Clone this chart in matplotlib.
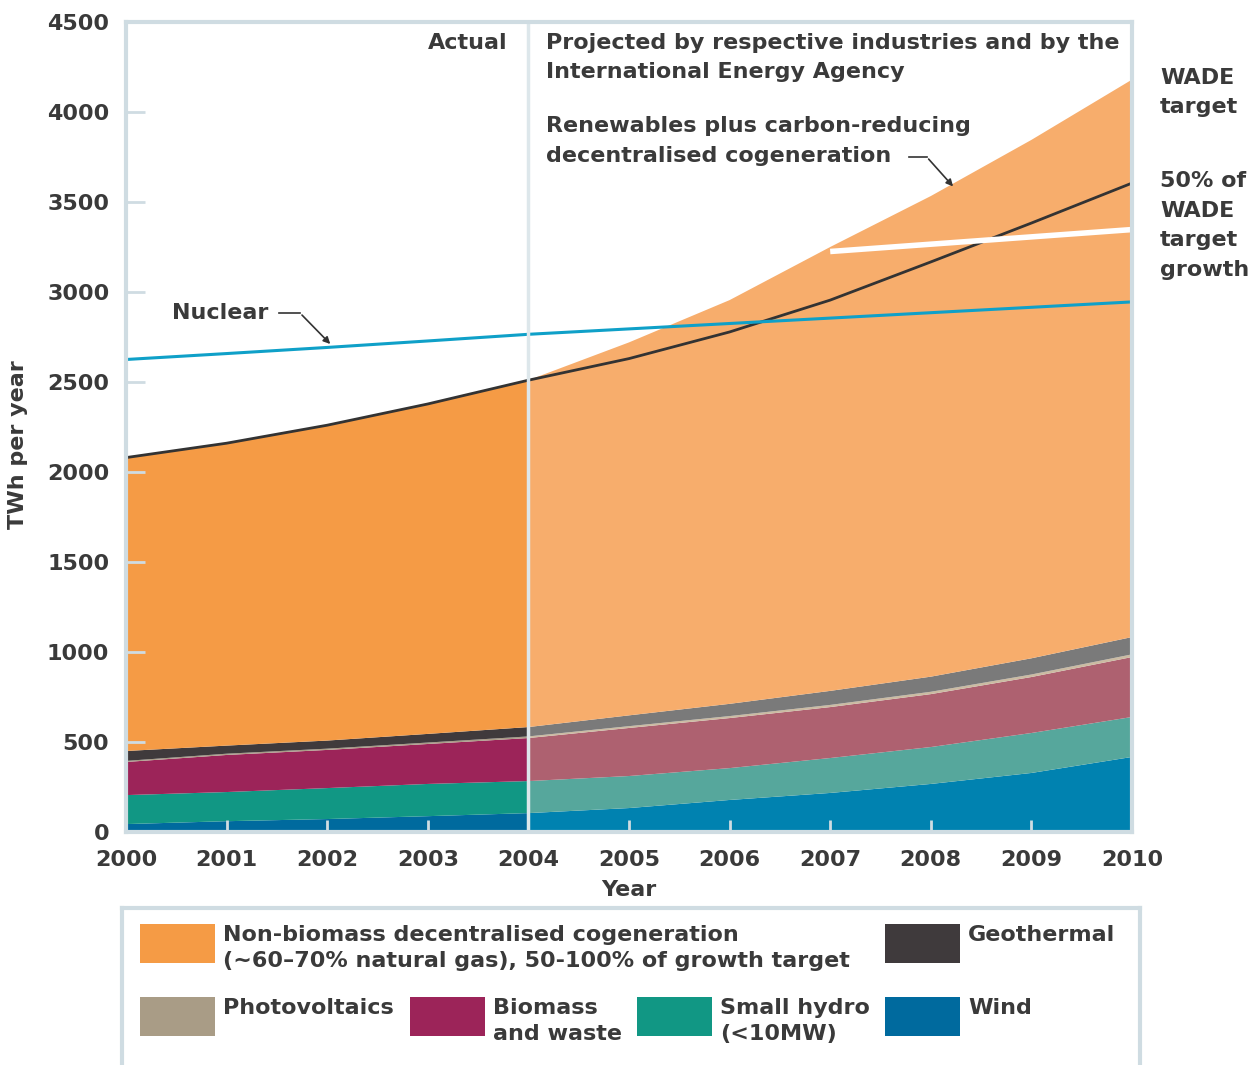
import numpy as np
import matplotlib
matplotlib.use("Agg")
import matplotlib.pyplot as plt
from matplotlib.patches import Rectangle

plt.rcParams["font.family"] = ["DejaVu Sans"]

# data (TWh per year)
years = np.arange(2000, 2011)
wind = [44, 60, 72, 88, 105, 133, 178, 217, 267, 328, 417]
small_hydro = [161, 162, 172, 179, 178, 178, 177, 194, 205, 222, 222]
biomass = [184, 206, 212, 222, 239, 267, 278, 283, 294, 311, 333]
photovoltaics = [6, 7, 7, 8, 9, 10, 11, 12, 13, 14, 15]
geothermal = [55, 45, 45, 48, 52, 60, 68, 78, 84, 90, 96]
cogeneration = [1630, 1680, 1752, 1833, 1927, 2072, 2243, 2466, 2670, 2880, 3097]
renewables_total = [2080, 2160, 2260, 2378, 2510, 2630, 2778, 2955, 3167, 3383, 3605]
nuclear = [2625, 2658, 2692, 2728, 2765, 2795, 2825, 2855, 2885, 2915, 2945]
wade_half_years = [2007, 2010.2]
wade_half = [3225, 3355]
last_actual = 2004

actual_colors = ["#006a9e", "#119784", "#9c2459", "#a99c86", "#3f3a3c", "#f59b45"]
projected_colors = ["#0082b0", "#56a79c", "#ae6170", "#cbbba2", "#7a7a7a", "#f7ad6c"]
text_color = "#3a3a3a"
frame_color = "#cfdce2"
fs = 16

layers = np.array([wind, small_hydro, biomass, photovoltaics, geothermal, cogeneration])
split = list(years).index(last_actual)

fig = plt.figure(figsize=(12.58, 10.65), dpi=100)
ax = fig.add_axes([126 / 1258, 1 - 832 / 1065, 1006 / 1258, 810 / 1065])

ax.stackplot(years[:split + 1], layers[:, :split + 1], colors=actual_colors, lw=0)
ax.stackplot(years[split:], layers[:, split:], colors=projected_colors, lw=0)

ax.plot(years, renewables_total, color="#333333", lw=2)
ax.plot(years, nuclear, color="#0fa0c8", lw=2.2)
ax.axvline(last_actual, color="#dde7eb", lw=2.5)
ax.plot(wade_half_years, wade_half, color="white", lw=4, clip_on=False, solid_capstyle="butt")

ax.set_xlim(2000, 2010)
ax.set_ylim(0, 4500)
ax.set_xticks(years)
ax.set_yticks(np.arange(0, 4501, 500))
ax.tick_params(axis="both", direction="in", colors=frame_color, width=2,
               labelcolor=text_color, labelsize=fs)
ax.tick_params(axis="y", length=14, pad=12)
ax.tick_params(axis="x", length=9, pad=13)
for lab in ax.get_xticklabels() + ax.get_yticklabels():
    lab.set_fontweight("bold")
for sp in ax.spines.values():
    sp.set_color(frame_color)
    sp.set_linewidth(3)

ax.set_xlabel("Year", fontsize=fs, fontweight="bold", color=text_color, labelpad=7)
ax.set_ylabel("TWh per year", fontsize=fs, fontweight="bold", color=text_color)
ax.yaxis.set_label_coords(-0.097, 0.478)

note = dict(fontsize=fs, fontweight="bold", color=text_color, linespacing=1.6)
ax.text(2003.79, 4440, "Actual", ha="right", va="top", **note)
ax.text(2004.17, 4440, "Projected by respective industries and by the\nInternational Energy Agency",
        ha="left", va="top", **note)
ax.text(2004.17, 3975, "Renewables plus carbon-reducing\ndecentralised cogeneration",
        ha="left", va="top", **note)
ax.plot([2007.78, 2007.96], [3750, 3750], color="#333333", lw=1.2)
ax.annotate("", xy=(2008.24, 3575), xytext=(2007.96, 3750),
            arrowprops=dict(arrowstyle="-|>", color="#333333", lw=1.2, mutation_scale=10))
ax.text(2000.46, 2883, "Nuclear", ha="left", va="center", **note)
ax.plot([2001.52, 2001.73], [2883, 2883], color="#333333", lw=1.2)
ax.annotate("", xy=(2002.05, 2700), xytext=(2001.73, 2883),
            arrowprops=dict(arrowstyle="-|>", color="#333333", lw=1.2, mutation_scale=10))
ax.text(2010.28, 4245, "WADE\ntarget", ha="left", va="top", clip_on=False, **note)
ax.text(2010.28, 3672, "50% of\nWADE\ntarget\ngrowth", ha="left", va="top", clip_on=False, **note)

# legend panel
lg = fig.add_axes([122 / 1258, 0, 1018 / 1258, 157 / 1065])
lg.set_xlim(122, 1140)
lg.set_ylim(1065, 908)
lg.set_xticks([])
lg.set_yticks([])
for sp in lg.spines.values():
    sp.set_color(frame_color)
    sp.set_linewidth(3)
lg.spines["bottom"].set_visible(False)

legend_items = [
    ("Non-biomass decentralised cogeneration\n(~60\u201370% natural gas), 50-100% of growth target", 140, 924, actual_colors[5]),
    ("Geothermal", 885, 924, actual_colors[4]),
    ("Photovoltaics", 140, 997, actual_colors[3]),
    ("Biomass\nand waste", 410, 997, actual_colors[2]),
    ("Small hydro\n(<10MW)", 637, 997, actual_colors[1]),
    ("Wind", 885, 997, actual_colors[0]),
]
for label, x, y, col in legend_items:
    lg.add_patch(Rectangle((x, y), 75, 39, color=col, lw=0))
    lg.text(x + 83, y + 1, label, ha="left", va="top", fontsize=fs, fontweight="bold",
            color=text_color, linespacing=1.38)

fig.savefig("out.png", dpi=100)
